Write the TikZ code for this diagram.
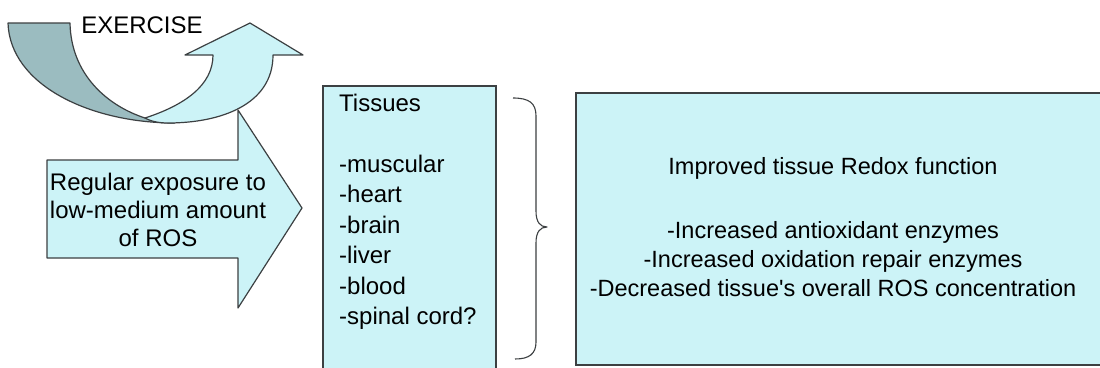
\documentclass[tikz,border=0pt]{standalone}
\usepackage{fontspec}
\setmainfont{Liberation Sans}[Ligatures=TeXOff]
\definecolor{lightfill}{RGB}{204,243,247}
\definecolor{darkfill}{RGB}{155,188,192}
\definecolor{edge}{RGB}{60,64,66}
\begin{document}
\begin{tikzpicture}[x=1pt,y=-1pt,
  shapeline/.style={draw=edge,line width=1.2pt,line join=round},
  boxstyle/.style={draw=edge,line width=1.6pt,fill=lightfill,rectangle,inner sep=0pt,anchor=north west},
  txt/.style={inner sep=0pt,font=\fontsize{24}{30.5}\selectfont,text=black}]
\useasboundingbox (0,0) rectangle (1100,367);
\clip (0,0) rectangle (1100,367);
\fill[white] (0,0) rectangle (1100,367);
% curved U-turn arrow
\path[shapeline,fill=darkfill] (8,23) -- (70,23)
  .. controls (71,75) and (108,106) .. (145,118)
  .. controls (155,121) and (165,123) .. (175,123)
  .. controls (90,123) and (10,85) .. (8,23) -- cycle;
\path[shapeline,fill=lightfill] (145,118)
  .. controls (185,105) and (213,85) .. (213,55)
  -- (185,55) -- (250,23) -- (303,55) -- (273,55)
  .. controls (273,105) and (220,123) .. (168,123)
  .. controls (158,123) and (150,121) .. (145,118) -- cycle;
\node[txt,anchor=base] (exercise) at (142,33) {EXERCISE};
% big right arrow
\path[shapeline,fill=lightfill] (47,160) -- (238,160) -- (238,110) -- (302,208)
  -- (238,308) -- (238,258) -- (47,258) -- cycle;
\node[txt,align=center,font=\fontsize{24}{28}\selectfont] (ros) at (158,210)
  {Regular exposure to\\low-medium amount\\of ROS};
% tissues box
\node[boxstyle,minimum width=173pt,minimum height=295pt] (tissues) at (322,85) {};
\node[txt,align=left,anchor=north west] (tlist) at (339,93.5)
  {Tissues\\ \mbox{}\\-muscular\\-heart\\-brain\\-liver\\-blood\\-spinal cord?};
% brace
\draw[shapeline,line width=1.1pt] (513,98) .. controls (529,98) and (536,103) .. (536,116)
  -- (536,211) .. controls (536,222) and (540,227) .. (547,227)
  .. controls (540,227) and (536,232) .. (536,243)
  -- (536,342) .. controls (536,354) and (529,359) .. (515,359);
% result box
\node[boxstyle,minimum width=540pt,minimum height=272pt] (result) at (575,92) {};
\node[txt,anchor=base,font=\fontsize{23.5}{29}\selectfont] (head) at (833,174.5)
  {Improved tissue Redox function};
\node[txt,align=center,anchor=north,font=\fontsize{23.5}{29}\selectfont] (items) at (833,221)
  {-Increased antioxidant enzymes\\-Increased oxidation repair enzymes\\-Decreased tissue's overall ROS concentration};
\end{tikzpicture}
\end{document}
